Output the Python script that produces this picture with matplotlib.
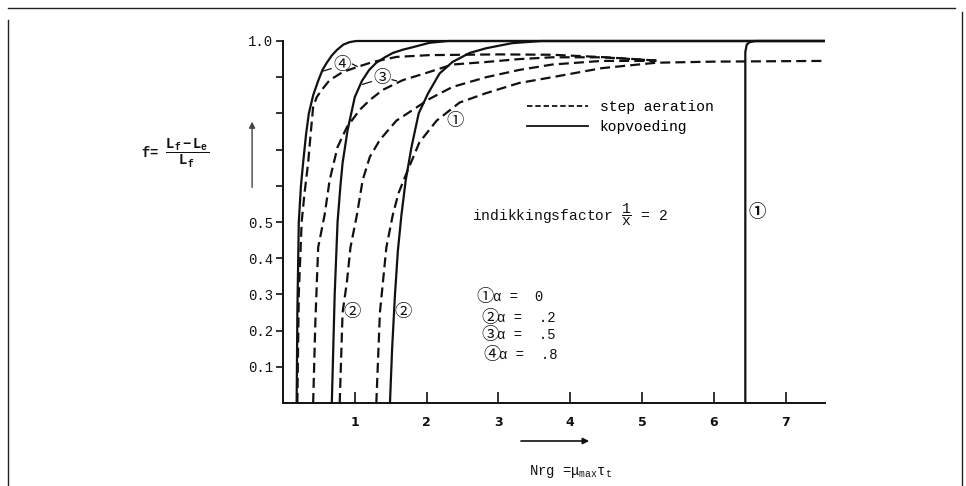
import matplotlib
matplotlib.use("Agg")
import matplotlib.pyplot as plt
from matplotlib.lines import Line2D

# ---------------- data ----------------
# kopvoeding (solid) curves, f = (Lf-Le)/Lf versus Nrg
solid4_x = [0.19, 0.20, 0.22, 0.25, 0.28, 0.32, 0.36, 0.42, 0.49, 0.55, 0.61, 0.68, 0.75, 0.84, 0.93, 1.02, 7.55]
solid4_f = [0.00, 0.25, 0.50, 0.60, 0.663, 0.74, 0.80, 0.85, 0.89, 0.92, 0.94, 0.96, 0.975, 0.99, 0.997, 1.00, 1.00]

solid3_x = [0.68, 0.70, 0.72, 0.76, 0.80, 0.83, 0.90, 1.00, 1.10, 1.20, 1.30, 1.42, 1.53, 1.67, 1.81, 2.04, 2.30, 7.55]
solid3_f = [0.00, 0.15, 0.30, 0.50, 0.60, 0.663, 0.754, 0.845, 0.89, 0.92, 0.94, 0.955, 0.967, 0.976, 0.983, 0.995, 1.00, 1.00]

solid2_x = [1.49, 1.52, 1.56, 1.60, 1.65, 1.71, 1.79, 1.89, 2.02, 2.18, 2.36, 2.60, 2.83, 3.19, 3.60, 7.55]
solid2_f = [0.00, 0.15, 0.30, 0.42, 0.52, 0.616, 0.707, 0.80, 0.855, 0.91, 0.942, 0.967, 0.98, 0.994, 1.00, 1.00]

solid1_x = [6.44, 6.44, 6.46, 6.50, 6.58, 7.55]
solid1_f = [0.00, 0.97, 0.99, 0.997, 1.00, 1.00]

# step aeration (dashed) curves
dash4_x = [0.20, 0.22, 0.26, 0.30, 0.35, 0.39, 0.42, 0.47, 0.54, 0.65, 0.83, 1.03, 1.25, 1.58, 2.04, 3.00, 3.75, 4.50, 5.20]
dash4_f = [0.00, 0.30, 0.50, 0.58, 0.663, 0.754, 0.818, 0.845, 0.865, 0.892, 0.914, 0.928, 0.942, 0.956, 0.961, 0.963, 0.962, 0.955, 0.946]

dash3_x = [0.42, 0.45, 0.49, 0.58, 0.65, 0.76, 0.89, 1.07, 1.21, 1.39, 1.67, 2.00, 2.36, 2.83, 3.29, 3.75, 4.44, 5.20]
dash3_f = [0.00, 0.22, 0.43, 0.52, 0.616, 0.707, 0.762, 0.81, 0.837, 0.865, 0.892, 0.912, 0.935, 0.942, 0.95, 0.955, 0.955, 0.946]

dash2_x = [0.79, 0.83, 0.89, 0.94, 1.03, 1.11, 1.21, 1.35, 1.58, 1.81, 2.04, 2.36, 2.83, 3.29, 3.75, 4.44, 5.20]
dash2_f = [0.00, 0.25, 0.334, 0.43, 0.52, 0.616, 0.68, 0.727, 0.78, 0.81, 0.84, 0.873, 0.90, 0.92, 0.935, 0.945, 0.945]

dash1_x = [1.30, 1.35, 1.44, 1.53, 1.61, 1.69, 1.90, 2.14, 2.46, 2.83, 3.29, 3.75, 4.44, 5.20, 6.00, 7.55]
dash1_f = [0.00, 0.25, 0.43, 0.52, 0.58, 0.62, 0.72, 0.78, 0.83, 0.856, 0.884, 0.90, 0.925, 0.94, 0.943, 0.945]

x_ticks = [1, 2, 3, 4, 5, 6, 7]
y_ticks = [0.1, 0.2, 0.3, 0.4, 0.5, 0.6, 0.7, 0.8, 0.9, 1.0]
y_tick_labels = ["0.1", "0.2", "0.3", "0.4", "0.5", "", "", "", "", "1.0"]

alpha_marks = ["\u2460", "\u2461", "\u2462", "\u2463"]
alpha_texts = ["\u03b1 =  0", "\u03b1 =  .2", "\u03b1 =  .5", "\u03b1 =  .8"]
legend_labels = ["step aeration", "kopvoeding"]

# ---------------- style ----------------
plt.rcParams["mathtext.fontset"] = "custom"
plt.rcParams["mathtext.rm"] = "Liberation Mono"
plt.rcParams["mathtext.it"] = "Liberation Mono"
plt.rcParams["mathtext.bf"] = "Liberation Mono:bold"
MONO = ["Liberation Mono", "Noto Sans CJK JP", "DejaVu Sans"]
CIRC = ["Noto Sans CJK JP", "DejaVu Sans"]
INK = "#111111"
LW = 1.6
DASH = (4.5, 2.3)

fig = plt.figure(figsize=(9.66, 4.86), dpi=100)
ax = fig.add_axes([283 / 966, 83 / 486, 542 / 966, 362 / 486])
ax.set_xlim(0, 7.55)
ax.set_ylim(0, 1.0)

for xs, fs in [(solid4_x, solid4_f), (solid3_x, solid3_f), (solid2_x, solid2_f), (solid1_x, solid1_f)]:
    ax.plot(xs, fs, color=INK, lw=LW, solid_capstyle="butt", clip_on=False)
for xs, fs in [(dash4_x, dash4_f), (dash3_x, dash3_f), (dash2_x, dash2_f), (dash1_x, dash1_f)]:
    ax.plot(xs, fs, color=INK, lw=LW, dashes=DASH, clip_on=False)

for s in ["top", "right"]:
    ax.spines[s].set_visible(False)
for s in ["left", "bottom"]:
    ax.spines[s].set_linewidth(1.4)
    ax.spines[s].set_color(INK)

ax.set_xticks(x_ticks)
ax.set_xticklabels([str(v) for v in x_ticks], fontsize=9, fontweight="bold", family="DejaVu Sans")
ax.tick_params(axis="x", direction="in", length=8, width=1.2, pad=9, colors=INK)
ax.set_yticks(y_ticks)
ax.set_yticklabels(y_tick_labels, fontsize=10, family="Liberation Mono")
ax.tick_params(axis="y", direction="out", length=5, width=1.2, pad=2, colors=INK)

# legend for line styles
handles = [Line2D([], [], color=INK, lw=1.3, dashes=(3.0, 1.6)),
           Line2D([], [], color=INK, lw=1.3)]
ax.legend(handles, legend_labels, loc="upper left", bbox_to_anchor=(0.45, 0.838),
          frameon=False, prop={"family": "Liberation Mono", "size": 10.5},
          handlelength=4.2, handletextpad=0.8, labelspacing=0.45,
          borderpad=0, borderaxespad=0)

# curve labels
lab = dict(family=CIRC, fontsize=12.5, ha="center", va="center", color=INK)
ax.text(0.82, 0.934, "\u2463", **lab)
ax.text(1.375, 0.898, "\u2462", **lab)
ax.text(2.40, 0.779, "\u2460", **lab)
ax.text(0.96, 0.251, "\u2461", **lab)
ax.text(1.67, 0.251, "\u2461", **lab)
ax.text(6.61, 0.528, "\u2460", fontweight="bold", **lab)
# leader strokes from labels to curves
for a, b in [((0.51, 0.914), (0.71, 0.926)), ((1.07, 0.926), (0.93, 0.94)),
             ((1.07, 0.878), (1.27, 0.89)), ((1.62, 0.888), (1.48, 0.895))]:
    ax.annotate("", xy=a, xytext=b, arrowprops=dict(arrowstyle="-", lw=0.9, color=INK))

# alpha list
al_y = [0.293, 0.235, 0.188, 0.133]
al_x = [2.82, 2.88, 2.88, 2.91]
for xx, yy, m, t in zip(al_x, al_y, alpha_marks, alpha_texts):
    ax.text(xx, yy, m, family=CIRC, fontsize=12.5, ha="center", va="center", color=INK)
    ax.text(xx + 0.1, yy, t, family=MONO, fontsize=10, ha="left", va="center", color=INK)

# annotations outside the plot
ax.text(0.349, 0.519, r"indikkingsfactor $\dfrac{1}{\mathrm{x}}$ = 2", transform=ax.transAxes,
        family="Liberation Mono", fontsize=10.5, ha="left", va="center", color=INK)
ax.text(-0.262, 0.69, r"f= $\dfrac{\mathbf{L_f - L_e}}{\mathbf{L_f}}$", transform=ax.transAxes,
        family="Liberation Mono", fontsize=10, fontweight="bold", ha="left", va="center", color=INK)
ax.annotate("", xy=(-0.057, 0.785), xytext=(-0.057, 0.588), xycoords="axes fraction",
            arrowprops=dict(arrowstyle="-|>", lw=1.0, color="#444444", mutation_scale=9))
ax.annotate("", xy=(0.570, -0.105), xytext=(0.434, -0.105), xycoords="axes fraction",
            annotation_clip=False,
            arrowprops=dict(arrowstyle="-|>", lw=1.2, color=INK, mutation_scale=9))
ax.text(0.53, -0.19, r"Nrg =$\mu_{\mathrm{max}}\tau_{\mathrm{t}}$", transform=ax.transAxes,
        family="Liberation Mono", fontsize=10, ha="center", va="center", color=INK)

# page frame of the scan
fig.add_artist(Line2D([8 / 966, 955 / 966], [1 - 8 / 486, 1 - 8 / 486], transform=fig.transFigure, color="#222222", lw=1.0))
fig.add_artist(Line2D([8 / 966, 8 / 966], [0, 1 - 20 / 486], transform=fig.transFigure, color="#222222", lw=1.0))
fig.add_artist(Line2D([962 / 966, 962 / 966], [0, 1 - 12 / 486], transform=fig.transFigure, color="#222222", lw=1.0))

fig.savefig("out.png", dpi=100)
